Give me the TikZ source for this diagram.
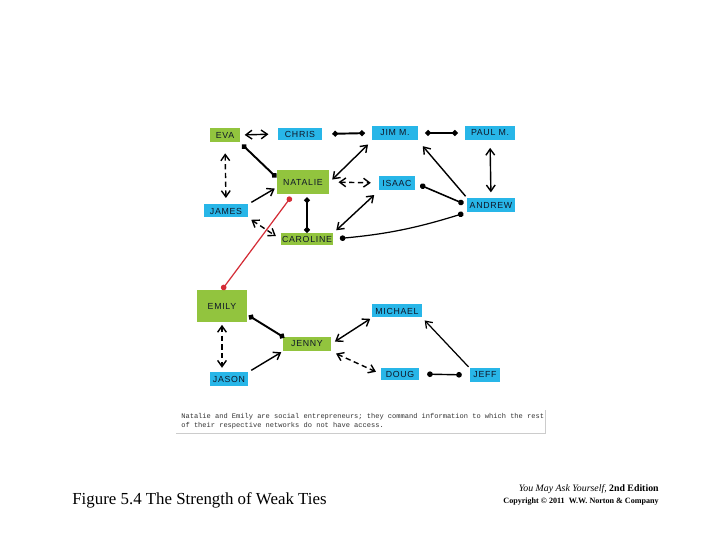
\documentclass[tikz,border=0pt]{standalone}
\usepackage{fontspec}
\setmainfont{Liberation Serif}
\newfontfamily\namefont{Liberation Sans}[LetterSpace=8]
\newfontfamily\notefont{Liberation Mono}
\usetikzlibrary{arrows.meta}
\definecolor{tiegreen}{RGB}{146,196,62}
\definecolor{tieblue}{RGB}{40,182,232}
\definecolor{nameink}{RGB}{15,22,40}
\definecolor{bridgered}{RGB}{212,45,55}

\begin{document}
\begin{tikzpicture}[x=0.02cm, y=-0.02cm, >={Straight Barb[length=3.5pt,width=5pt]},
    person/.style={inner sep=0pt, text=nameink, font=\namefont\fontsize{5}{5}\selectfont},
    strongname/.style={person, fill=tiegreen},
    weakname/.style={person, fill=tieblue},
    tie/.style={line width=1.1pt, line cap=round, {Circle[length=3.2pt]}-{Circle[length=3.2pt]}},
    thintie/.style={tie, line width=0.7pt},
    both/.style={line width=0.8pt, <->},
    dashboth/.style={both, dash pattern=on 3pt off 2pt}]

    \useasboundingbox (0,0) rectangle (720,540);

    % Natalie's network
    \node[strongname, minimum width=17pt, minimum height=8.5pt] (eva) at (225,135) {EVA};
    \node[weakname, minimum width=25.5pt, minimum height=6.8pt] (chris) at (300,134) {CHRIS};
    \node[weakname, minimum width=26pt, minimum height=8.5pt] (jim) at (395,133) {JIM M.};
    \node[weakname, minimum width=28.4pt, minimum height=8.5pt] (paul) at (490,133) {PAUL M.};
    \node[strongname, minimum width=30pt, minimum height=14.2pt] (natalie) at (303,182) {NATALIE};
    \node[weakname, minimum width=20.4pt, minimum height=8.5pt] (isaac) at (397,183) {ISAAC};
    \node[weakname, minimum width=25pt, minimum height=7.4pt] (james) at (226,211) {JAMES};
    \node[weakname, minimum width=27.2pt, minimum height=8pt] (andrew) at (491,205) {ANDREW};
    \node[strongname, minimum width=30pt, minimum height=6.8pt] (caroline) at (307,239) {CAROLINE};

    \draw[both, shorten <=2.5pt, shorten >=5pt] (eva.east) -- (chris.west);
    \draw[tie, shorten <=5.5pt, shorten >=4pt] (chris.east) -- (jim.west);
    \draw[tie, shorten <=4pt, shorten >=4pt] (jim.east) -- (paul.west);
    \draw[tie, shorten <=1.5pt] (eva.south east) -- (natalie.170);
    \draw[dashboth, shorten <=6pt, shorten >=3.5pt] (eva.south) -- (james.north);
    \draw[both, -> , shorten <=2pt, shorten >=1pt] (james.north east) -- (natalie.-168);
    \draw[both, shorten <=2pt, shorten >=3pt] (natalie.east) -- (jim.south west);
    \draw[dashboth, shorten <=5pt, shorten >=4.5pt] (natalie.east) -- (isaac.west);
    \draw[tie, shorten <=1.5pt] (natalie.south -| caroline) -- (caroline.north);
    \draw[dashboth, shorten <=2pt, shorten >=3pt] (james.south east) -- (caroline.west);
    \draw[both, shorten <=2pt, shorten >=3.5pt] (caroline.north east) -- (isaac.south west);
    \draw[thintie, shorten <=3.5pt, shorten >=2pt] (caroline.east) to[bend right=6] (andrew.south west);
    \draw[thintie, line width=0.9pt, shorten <=3pt, shorten >=2pt] (isaac.east) -- (andrew.west);
    \draw[both, -> , shorten <=1pt, shorten >=4pt] (andrew.north west) -- (jim.south east);
    \draw[both, shorten <=4pt, shorten >=3pt] (paul.south) -- (andrew.north);

    % Emily's network
    \node[strongname, minimum width=28.4pt, minimum height=18.1pt] (emily) at (222,306) {EMILY};
    \node[weakname, minimum width=28.4pt, minimum height=7.4pt] (michael) at (397,311) {MICHAEL};
    \node[strongname, minimum width=27.2pt, minimum height=8pt] (jenny) at (307,344) {JENNY};
    \node[weakname, minimum width=21.5pt, minimum height=7.4pt] (jason) at (229,379) {JASON};
    \node[weakname, minimum width=21.5pt, minimum height=6.8pt] (doug) at (400,374) {DOUG};
    \node[weakname, minimum width=17pt, minimum height=7.4pt] (jeff) at (485,375) {JEFF};

    % Bridge
    \draw[thintie, bridgered, shorten <=1.5pt] (natalie.-129) -- (emily.north);

    \draw[tie, shorten <=1pt, shorten >=-1pt] (emily.-19) -- (jenny.north west);
    \draw[dashboth, shorten <=1.5pt, shorten >=2.5pt] (emily.south) -- (emily.south |- jason.north);
    \draw[both, -> , shorten <=2pt, shorten >=1pt] (jason.north east) -- (jenny.south west);
    \draw[both, shorten <=2.5pt, shorten >=1pt] (jenny.east) -- (michael.south west);
    \draw[dashboth, shorten <=3pt, shorten >=3pt] (jenny.south east) -- (doug.west);
    \draw[thintie, line width=0.8pt, shorten <=4.5pt, shorten >=4.5pt] (doug.east) -- (jeff.west);
    \draw[both, -> , line width=0.7pt, shorten <=1pt, shorten >=2pt] (jeff.north west) -- (michael.south east);

    % Note under the networks
    \node[inner sep=0pt, minimum width=209.8pt, minimum height=13pt, fill=white] (note) at (361,421.5) {};
    \draw[black!20, line width=0.6pt] (note.south west) -- (note.south east) -- (note.north east);
    \node[inner sep=0pt, anchor=north west, align=left, text=black!80,
        font=\notefont\fontsize{4}{5.4}\selectfont] (notetext) at (181,413)
        {Natalie and Emily are social entrepreneurs; they command information to which the rest\\
         of their respective networks do not have access.};

    % Titles
    \node[anchor=base west, inner sep=0pt, font=\fontsize{9.6}{11}\selectfont] (title) at (72,504)
        {Figure 5.4 The Strength of Weak Ties};
    \node[anchor=base east, inner sep=0pt, font=\fontsize{5.6}{6}\selectfont] (book) at (659,491)
        {\textit{You May Ask Yourself,} \textbf{2nd Edition}};
    \node[anchor=base east, inner sep=0pt, font=\bfseries\fontsize{4.6}{5}\selectfont] (copy) at (659,503)
        {Copyright \textcopyright{} 2011\enspace W.W. Norton \& Company};

\end{tikzpicture}
\end{document}
